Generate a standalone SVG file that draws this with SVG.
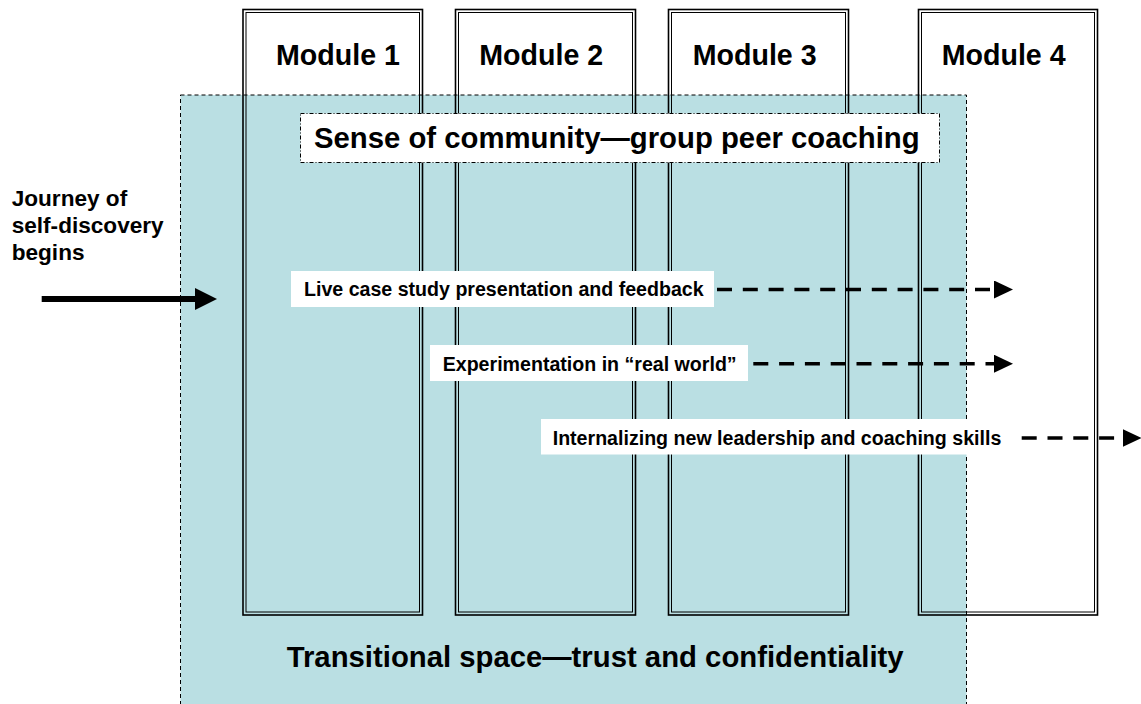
<svg xmlns="http://www.w3.org/2000/svg" width="1141" height="704" viewBox="0 0 1141 704">
<style>
  .t { font-family: "Liberation Sans", Arial, sans-serif; font-weight: bold; fill: #000; }
  .big { font-size: 28.6px; }
  .hd { font-size: 29.3px; }
  .mid { font-size: 22.6px; }
  .lab { font-size: 19.6px; }
  .mo { fill: none; stroke: #000; stroke-width: 1.6; }
  .mi { fill: none; stroke: #000; stroke-width: 1; }
  .box { fill: #fff; stroke: none; }
  .dash { stroke: #000; stroke-width: 3.5; stroke-dasharray: 15 10.8; fill: none; }
</style>
<defs>
  <marker id="ah" markerUnits="userSpaceOnUse" markerWidth="19" markerHeight="18" refX="0" refY="9" orient="auto" viewBox="0 0 19 18">
    <path d="M0,0 L19,9 L0,18 Z" fill="#000"/>
  </marker>
  <marker id="ahBig" markerUnits="userSpaceOnUse" markerWidth="22" markerHeight="22" refX="0" refY="11" orient="auto" viewBox="0 0 22 22">
    <path d="M0,0 L22,11 L0,22 Z" fill="#000"/>
  </marker>
</defs>
<rect width="1141" height="704" fill="#fff"/>

<g id="transitional-space">
  <rect x="180.5" y="95" width="786" height="625" fill="#badfe3" stroke="#000" stroke-width="1" stroke-dasharray="4 3"/>
  <text class="t hd" x="286.7" y="667">Transitional space—trust and confidentiality</text>
</g>

<g id="module-1">
  <rect class="mo" x="243" y="9.5" width="179.5" height="605.5"/>
  <rect class="mi" x="246" y="12.5" width="173.5" height="599.5"/>
  <text class="t big" x="276" y="65">Module 1</text>
</g>
<g id="module-2">
  <rect class="mo" x="455.5" y="9.5" width="180" height="605.5"/>
  <rect class="mi" x="458.5" y="12.5" width="174" height="599.5"/>
  <text class="t big" x="479.3" y="65">Module 2</text>
</g>
<g id="module-3">
  <rect class="mo" x="668.5" y="9.5" width="180" height="605.5"/>
  <rect class="mi" x="671.5" y="12.5" width="174" height="599.5"/>
  <text class="t big" x="692.7" y="65">Module 3</text>
</g>
<g id="module-4">
  <rect class="mo" x="918.5" y="9.5" width="179" height="605.5"/>
  <rect class="mi" x="921.5" y="12.5" width="173" height="599.5"/>
  <text class="t big" x="941.7" y="65">Module 4</text>
</g>

<g id="sense-of-community">
  <rect x="300.5" y="113.5" width="639" height="49" fill="#fff" stroke="#000" stroke-width="1" stroke-dasharray="4 2 1 2"/>
  <text class="t hd" x="314" y="148">Sense of community—group peer coaching</text>
</g>

<g id="journey">
  <text class="t mid" x="11.7" y="206">Journey of</text>
  <text class="t mid" x="11.7" y="233">self-discovery</text>
  <text class="t mid" x="11.7" y="260">begins</text>
</g>

<g id="live-case">
  <rect class="box" x="291" y="271" width="423" height="36"/>
  <text class="t lab" x="304" y="296">Live case study presentation and feedback</text>
</g>
<g id="experimentation">
  <rect class="box" x="430" y="345" width="318" height="36"/>
  <text class="t lab" x="442.7" y="371">Experimentation in “real world”</text>
</g>
<g id="internalizing">
  <rect class="box" x="541" y="419" width="426" height="35.5"/>
  <text class="t lab" x="552.7" y="444.5">Internalizing new leadership and coaching skills</text>
</g>

<g id="connectors">
  <line x1="41.7" y1="299" x2="195" y2="299" stroke="#000" stroke-width="6" marker-end="url(#ahBig)"/>
  <line class="dash" x1="717" y1="289.5" x2="994" y2="289.5" marker-end="url(#ah)"/>
  <line class="dash" x1="753.3" y1="363.7" x2="994" y2="363.7" marker-end="url(#ah)"/>
  <line class="dash" x1="1021.7" y1="438" x2="1122.5" y2="438" marker-end="url(#ah)"/>
</g>
</svg>
